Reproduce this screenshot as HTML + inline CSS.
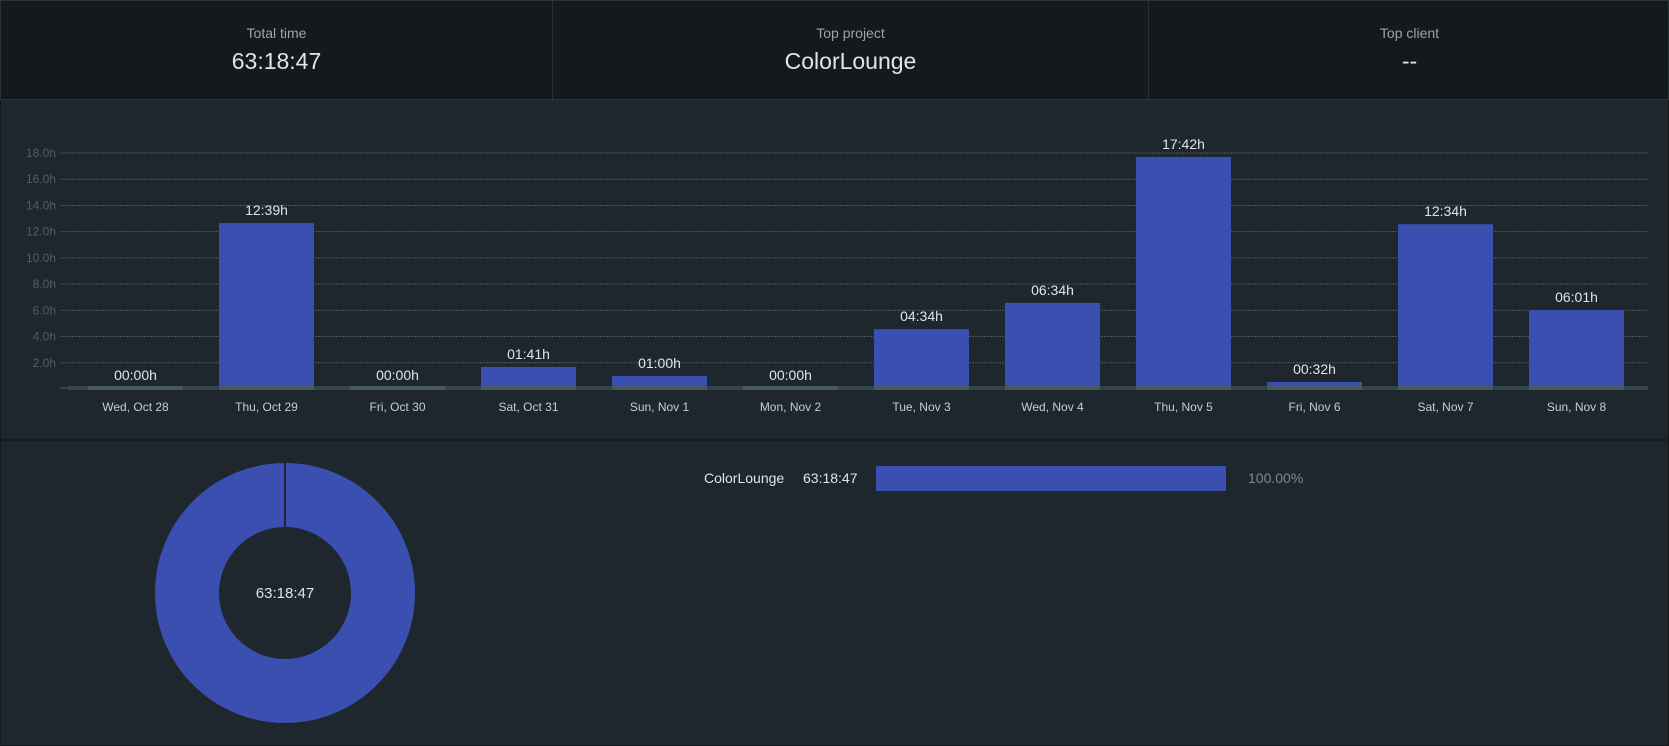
<!DOCTYPE html>
<html><head><meta charset="utf-8"><style>
body{margin:0;width:1669px;height:746px;background:#1e272d;font-family:"Liberation Sans",sans-serif;overflow:hidden;position:relative}
.hdr{position:absolute;left:0;top:0;width:1669px;height:100px;background:#13191c;border:1px solid #2a3338;box-sizing:border-box}
.cell{position:absolute;top:0;height:100px;text-align:center;border-right:1px solid #283136;box-sizing:border-box}
.lbl{position:absolute;top:24px;width:100%;font-size:14px;color:#9aa6ad}
.val{position:absolute;top:47px;width:100%;font-size:23px;color:#dfe5e8}
svg text{font-family:"Liberation Sans",sans-serif}
</style></head><body>
<div class="hdr">
<div class="cell" style="left:0;width:552px"><div class="lbl">Total time</div><div class="val">63:18:47</div></div>
<div class="cell" style="left:552px;width:596px"><div class="lbl">Top project</div><div class="val">ColorLounge</div></div>
<div class="cell" style="left:1148px;width:521px;border-right:none"><div class="lbl">Top client</div><div class="val">--</div></div>
</div>
<svg id="chart" width="1669" height="746" style="position:absolute;left:0;top:0">
<line x1="0" y1="440" x2="1669" y2="440" stroke="#12181b" stroke-width="1.5"/>
<line x1="0.5" y1="100" x2="0.5" y2="746" stroke="#12181b"/>
<line x1="1668.5" y1="100" x2="1668.5" y2="746" stroke="#12181b"/>
<line x1="0" y1="745.5" x2="1669" y2="745.5" stroke="#12181b"/>
</svg>
<script>
const categories=["Wed, Oct 28","Thu, Oct 29","Fri, Oct 30","Sat, Oct 31","Sun, Nov 1","Mon, Nov 2","Tue, Nov 3","Wed, Nov 4","Thu, Nov 5","Fri, Nov 6","Sat, Nov 7","Sun, Nov 8"];
const hours=[0,12.65,0,1.683,1,0,4.567,6.567,17.7,0.533,12.567,6.017];
const valueLabels=["00:00h","12:39h","00:00h","01:41h","01:00h","00:00h","04:34h","06:34h","17:42h","00:32h","12:34h","06:01h"];
const yTicks=[2,4,6,8,10,12,14,16,18];
const NS="http://www.w3.org/2000/svg";
const svg=document.getElementById('chart');
const y0=389,pxPerH=236/18,left=70,step=131,bw=95;
const y=v=>y0-v*pxPerH;
const x=i=>left+i*step+step/2;
function mk(t,a,txt){const e=document.createElementNS(NS,t);for(const k in a)e.setAttribute(k,a[k]);if(txt!=null)e.textContent=txt;svg.appendChild(e);return e;}
yTicks.forEach(v=>{
 const g=mk('line',{x1:60,x2:1648,y1:y(v),y2:y(v),stroke:'#4a5a60','stroke-dasharray':'2,1'});
 
 
 const t=mk('text',{x:56,y:y(v)+4,'text-anchor':'end','font-size':12,fill:'#4f5f66'},v.toFixed(1)+'h');
 
 
});
const base=mk('rect',{x:68,y:y0-3,width:1580,height:4,fill:'#34454b'});


mk('line',{x1:60,x2:68,y1:y0-1,y2:y0-1,stroke:'#4a5a60'});
hours.forEach((v,i)=>{
 const h=Math.max(v*pxPerH,1);
 const b=mk('rect',{x:x(i)-bw/2,y:y0-h,width:bw,height:h,fill:v>0?'#3a4fb0':'#4a5c62'});
 
 
 const s=mk('rect',{x:x(i)-bw/2,y:y0-3,width:bw,height:4,fill:'#455960'});
 const l=mk('text',{x:x(i),y:y0-h-8,'text-anchor':'middle','font-size':14,fill:'#dfe5e8'},valueLabels[i]);
 
 
 const c=mk('text',{x:x(i),y:411,'text-anchor':'middle','font-size':12,fill:'#c5ced2'},categories[i]);
 
 
});
// donut
const d=mk('circle',{cx:285,cy:593,r:98,fill:'none',stroke:'#3a4fb0','stroke-width':64});


mk('line',{x1:285,y1:463,x2:285,y2:527,stroke:'#1e272d','stroke-width':2});
const dc=mk('text',{x:285,y:598,'text-anchor':'middle','font-size':15,fill:'#dfe5e8'},'63:18:47');


const l1=mk('text',{x:704,y:483,'font-size':14,fill:'#dfe5e8'},'ColorLounge');


const l2=mk('text',{x:803,y:483,'font-size':14,fill:'#dfe5e8'},'63:18:47');


const lb=mk('rect',{x:876,y:466,width:350,height:25,fill:'#3a4fb0'});


const l3=mk('text',{x:1248,y:483,'font-size':14,fill:'#7d8a90'},'100.00%');


</script>
</body></html>
